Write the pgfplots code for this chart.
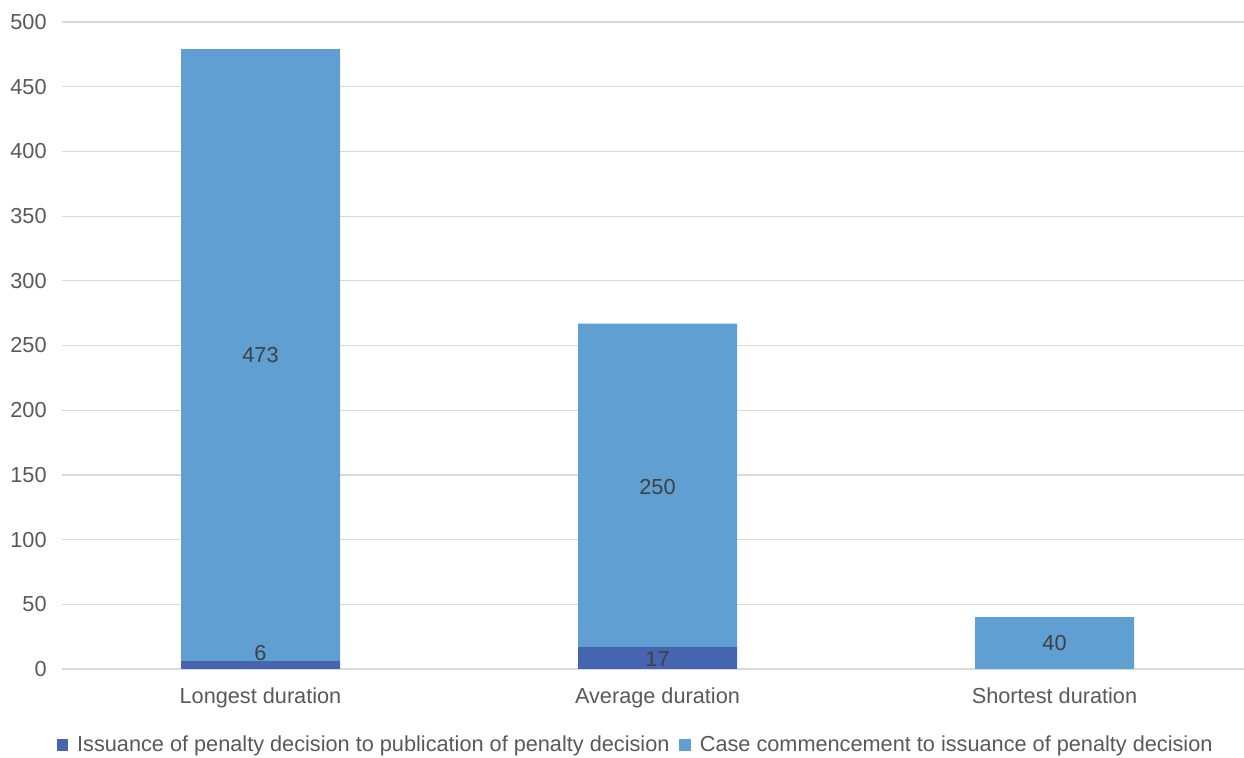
\documentclass[border=0pt]{standalone}
\usepackage{fontspec}
\setmainfont{Liberation Sans}
\usepackage{pgfplots}
\pgfplotsset{compat=1.18}
\definecolor{dblue}{HTML}{4665B0}
\definecolor{lblue}{HTML}{609FD2}
\definecolor{gridc}{HTML}{D9D9D9}
\definecolor{txt}{HTML}{595959}
\definecolor{lbl}{HTML}{404040}
\newcommand{\chfont}{\fontsize{10.85bp}{13bp}\selectfont}
\pgfplotsset{
  sqlegend/.style={legend image code/.code={\fill[##1] (0bp,-2.8bp) rectangle (5.6bp,2.8bp); \path (8.2bp,0bp);}},
  common/.style={
    at={(31bp,44.5bp)}, anchor=south west,
    scale only axis, width=595.5bp, height=323.5bp,
    xmin=-0.5, xmax=2.5, ymin=0, ymax=500,
  }
}
\begin{document}
\begin{tikzpicture}
\useasboundingbox (0,0) rectangle (622bp,379bp);
\begin{axis}[
  common,
  ybar stacked, bar width=79.5bp,
  ytick={0,50,...,500}, xtick={0,1,2},
  xticklabels={Longest duration, Average duration, Shortest duration},
  ymajorgrids, grid style={gridc, line width=0.6bp},
  axis line style={draw=none}, major tick length=0,
  /pgf/number format/assume math mode=true,
  tick label style={text=txt, font=\chfont},
  yticklabel style={inner sep=0pt, anchor=east, xshift=-7.5bp},
  xticklabel style={inner sep=0pt, anchor=base, yshift=-17bp},
  legend columns=2,
  legend style={draw=none, at={(0.4825,-0.1175)}, anchor=center,
    font=\chfont, text=txt, inner sep=0pt,
    /tikz/every even column/.append style={column sep=3bp}},
  legend cell align=left,
]
\addplot[fill=dblue, draw=none, sqlegend]
  coordinates {(0,6) (1,17) (2,0)};
\addlegendentry{Issuance of penalty decision to publication of penalty decision}
\addplot[fill=lblue, draw=none, sqlegend]
  coordinates {(0,473) (1,250) (2,40)};
\addlegendentry{Case commencement to issuance of penalty decision}
\end{axis}
\begin{axis}[common, hide axis]
\addplot[draw=none, mark=none, nodes near coords, point meta=explicit symbolic,
  every node near coord/.style={anchor=center, text=lbl, font=\chfont}]
  coordinates {(0,242.7)[473] (0,12.4)[6] (1,140.6)[250] (1,7.7)[17] (2,20)[40]};
\end{axis}
\end{tikzpicture}
\end{document}
